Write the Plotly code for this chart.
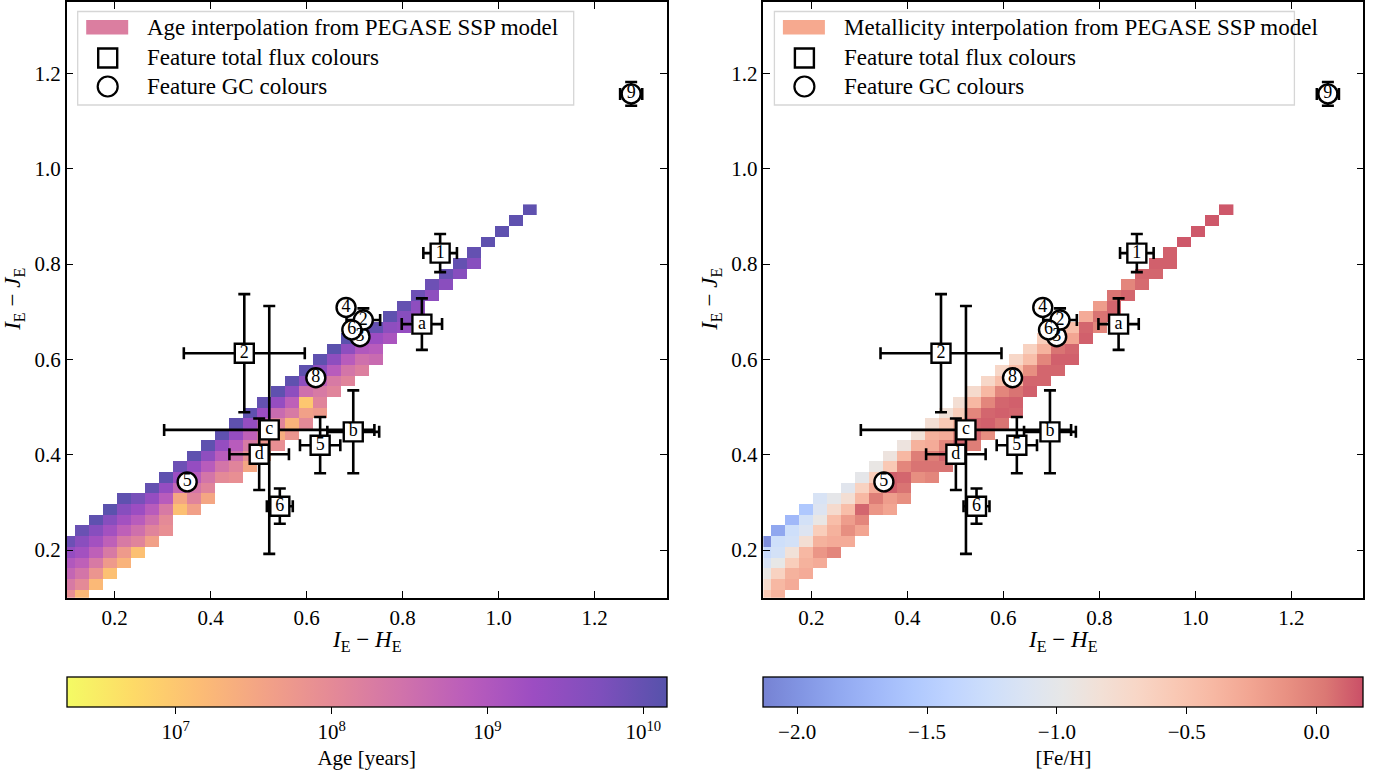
import plotly.graph_objects as go

SERIF = "Liberation Serif"
W, H = 1384, 778

# ---------------------------------------------------------------- model grid
# colour-colour bins of the interpolated SSP grid (lower edge of bin 0, bin width)
X_EDGE0, X_STEP = 0.11667, 0.029167
Y_EDGE0, Y_STEP = 0.1162, 0.02247
FIRST_COL = -1

# highest filled row of every column (column index starts at FIRST_COL)
COL_TOP_ROW = [4, 5, 6, 7, 8, 8, 9, 10, 11, 12, 13, 14, 15, 16, 17, 18, 19, 20,
               21, 22, 23, 24, 24, 25, 26, 27, 28, 29, 30, 31, 32, 33, 34, 35]

# log10(age / yr) of each filled cell, top row first
AGE_LOG = [
    [9.9, 9.4, 9.0, 8.7, 8.3, 7.9],
    [9.95, 9.55, 9.2, 8.8, 8.4, 8.0, 7.2],
    [10.05, 9.6, 9.2, 8.8, 8.3, 7.8, 7.2],
    [10.1, 9.6, 9.2, 8.8, 8.3, 7.7, 7.1],
    [10.05, 9.6, 9.2, 8.8, 8.3, 7.7, 7.3],
    [9.8, 9.3, 8.9, 8.5, 8.1, 7.1],
    [10.0, 9.4, 8.9, 8.5, 8.1, 7.6],
    [10.05, 9.4, 8.9, 8.3, 8.0, 7.9],
    [9.9, 9.3, 8.7, 7.5, 7.1],
    [10.05, 9.4, 8.9, 8.4, 8.1, 7.6],
    [10.05, 9.5, 8.9, 8.4, 8.1, 7.5],
    [10.05, 9.4, 8.9, 8.4, 8.0],
    [10.05, 9.4, 8.9, 8.5, 8.1, 7.9],
    [10.05, 9.4, 8.8, 8.3, 7.9, 7.5],
    [10.0, 9.3, 8.7, 8.2, 7.8, 7.5],
    [10.05, 9.4, 8.6, 8.1, 7.4, 7.9],
    [10.05, 9.5, 8.8, 8.3, 7.3, 7.8],
    [10.05, 9.5, 8.5, 7.0, 7.6, 8.0],
    [10.05, 9.5, 8.8, 8.3, 8.1, 7.7],
    [10.1, 9.5, 8.9, 8.3, 8.1],
    [10.1, 9.5, 8.9, 8.4, 8.1],
    [10.1, 9.5, 9.0, 8.5, 8.2],
    [10.0, 9.3, 8.9, 8.6],
    [10.05, 9.5, 9.1],
    [10.0, 9.6, 9.4],
    [9.9, 9.5, 9.4],
    [9.9, 9.5],
    [9.95, 9.55],
    [10.0, 9.6],
    [10.0, 9.6],
    [10.05],
    [10.05],
    [10.05],
    [10.05],
]

# [Fe/H] of each filled cell, top row first
FEH = [
    [-2.05, -1.3, -1.15, -0.95, -0.75, -0.55],
    [-1.85, -1.25, -1.2, -0.97, -0.65, -0.4, -0.35],
    [-1.7, -1.25, -1.2, -0.85, -0.6, -0.35, -0.3],
    [-1.55, -1.2, -1.1, -0.8, -0.4, -0.35, -0.3],
    [-1.15, -1.1, -0.95, -0.6, -0.35, -0.15, -0.3],
    [-1.0, -0.75, -0.45, -0.35, -0.3, -0.05],
    [-1.05, -0.8, -0.45, -0.2, -0.1, -0.3],
    [-1.0, -0.65, -0.4, 0.1, -0.05, -0.25],
    [-0.95, -0.6, -0.3, 0.0, -0.15],
    [-0.9, -0.55, 0.12, 0.12, -0.2, -0.25],
    [-0.9, -0.4, -0.05, 0.1, 0.05, -0.1],
    [-0.85, -0.35, 0.0, 0.05, -0.1],
    [-0.8, -0.35, -0.3, 0.0, 0.05, -0.05],
    [-0.85, -0.55, -0.3, -0.05, 0.1, 0.05],
    [-0.8, -0.6, -0.35, -0.05, 0.1, 0.05],
    [-0.75, -0.4, -0.05, 0.1, 0.1, 0.0],
    [-0.7, -0.4, -0.05, 0.1, 0.12, -0.1],
    [-0.7, -0.45, -0.05, 0.1, 0.12, 0.05],
    [-0.7, -0.45, -0.35, 0.05, 0.12, 0.1],
    [-0.65, -0.45, -0.1, 0.1, 0.12],
    [-0.6, -0.35, -0.05, 0.1, 0.1],
    [-0.5, -0.3, 0.05, 0.12, 0.1],
    [-0.45, -0.25, 0.1, 0.12],
    [-0.3, 0.1, 0.12],
    [-0.2, 0.05, -0.05],
    [0.05, 0.1, 0.1],
    [-0.05, 0.1],
    [0.1, 0.08],
    [0.12, 0.1],
    [0.12, 0.12],
    [0.15],
    [0.15],
    [0.15],
    [0.15],
]

AGE_RANGE = (6.3, 10.15)
FEH_RANGE = (-2.13, 0.18)

# ---------------------------------------------------------------- features
SQ_LABEL = ["1", "a", "2", "c", "b", "5", "d", "6"]
SQ_X = [0.878, 0.840, 0.470, 0.522, 0.697, 0.628, 0.501, 0.544]
SQ_Y = [0.823, 0.674, 0.613, 0.452, 0.448, 0.420, 0.401, 0.292]
SQ_XERR = [0.035, 0.042, 0.126, 0.219, 0.054, 0.042, 0.062, 0.027]
SQ_YERR = [0.040, 0.054, 0.124, 0.260, 0.087, 0.059, 0.075, 0.037]

GC_LABEL = ["9", "5", "8", "3", "2", "4", "6"]
GC_X = [1.276, 0.351, 0.619, 0.711, 0.718, 0.682, 0.694]
GC_Y = [1.157, 0.343, 0.5615, 0.6475, 0.6825, 0.709, 0.662]
GC_XERR = [0.023, 0.015, 0.015, 0.015, 0.035, 0.015, 0.015]
GC_YERR = [0.025, 0.015, 0.015, 0.015, 0.0245, 0.015, 0.015]

# ---------------------------------------------------------------- colours
PLASMA = ["#0d0887", "#46039f", "#7201a8", "#9c179e", "#bd3786",
          "#d8576b", "#ed7953", "#fb9f3a", "#fdca26", "#f0f921"]
COOLWARM = [(59, 76, 192), (77, 104, 215), (98, 130, 234), (119, 154, 247),
            (141, 176, 254), (163, 194, 255), (184, 208, 249), (204, 217, 238),
            (221, 221, 221), (236, 211, 197), (245, 196, 173), (247, 177, 148),
            (244, 154, 123), (236, 127, 99), (222, 96, 77), (203, 62, 56),
            (180, 4, 38)]
ALPHA = 0.7


def hex_rgb(h):
    h = h.lstrip("#")
    return tuple(int(h[i:i + 2], 16) for i in (0, 2, 4))


def on_white(rgb, a=ALPHA):
    return tuple(round(a * c + (1 - a) * 255) for c in rgb)


def scale_from(rgbs):
    n = len(rgbs) - 1
    return [[i / n, "rgb(%d,%d,%d)" % on_white(c)] for i, c in enumerate(rgbs)]


AGE_SCALE = scale_from([hex_rgb(h) for h in PLASMA[::-1]])
FEH_SCALE = scale_from(COOLWARM)


def grid(values):
    """Place the per-column cell values on the full colour-colour grid."""
    n_cols = len(COL_TOP_ROW)
    low = min(top - len(v) + 1 for top, v in zip(COL_TOP_ROW, values))
    high = max(COL_TOP_ROW)
    z = [[None] * n_cols for _ in range(high - low + 1)]
    for c, (top, col) in enumerate(zip(COL_TOP_ROW, values)):
        for k, val in enumerate(col):
            z[top - k - low][c] = val
    xs = [X_EDGE0 + X_STEP * (FIRST_COL + c + 0.5) for c in range(n_cols)]
    ys = [Y_EDGE0 + Y_STEP * (r + 0.5) for r in range(low, high + 1)]
    return xs, ys, z


# ---------------------------------------------------------------- layout geometry
AX_L = (66.7, 666.7)
AX_R = (763.4, 1363.4)
AX_TOP, AX_BOT = 1.9, 597.7
CB_TOP = 677


def px(x):
    return x / W


def py(y):
    return 1 - y / H


fig = go.Figure()

panels = [
    dict(xa="x", ya="y", vals=AGE_LOG, scale=AGE_SCALE, rng=AGE_RANGE, dom=AX_L,
         cb=dict(tickvals=[7, 8, 9, 10],
                 ticktext=["10<sup>7</sup>", "10<sup>8</sup>", "10<sup>9</sup>", "10<sup>10</sup>"],
                 title="Age [years]")),
    dict(xa="x2", ya="y2", vals=FEH, scale=FEH_SCALE, rng=FEH_RANGE, dom=AX_R,
         cb=dict(tickvals=[-2.0, -1.5, -1.0, -0.5, 0.0],
                 ticktext=["\u22122.0", "\u22121.5", "\u22121.0", "\u22120.5", "0.0"],
                 title="[Fe/H]")),
]

for p in panels:
    xs, ys, z = grid(p["vals"])
    d0, d1 = p["dom"]
    fig.add_trace(go.Heatmap(
        x=xs, y=ys, z=z, xaxis=p["xa"], yaxis=p["ya"],
        colorscale=p["scale"], zmin=p["rng"][0], zmax=p["rng"][1],
        hoverongaps=False, showscale=True,
        colorbar=dict(
            orientation="h", x=px((d0 + d1) / 2), xanchor="center",
            y=py(CB_TOP), yanchor="top", len=(d1 - d0) / W, lenmode="fraction",
            thickness=30, thicknessmode="pixels", xpad=0, ypad=0,
            outlinewidth=1.3, outlinecolor="black",
            ticks="outside", ticklen=7, tickwidth=1.3, tickcolor="black",
            tickvals=p["cb"]["tickvals"], ticktext=p["cb"]["ticktext"],
            tickfont=dict(family=SERIF, size=21, color="black"),
            title=dict(text=p["cb"]["title"], side="bottom",
                       font=dict(family=SERIF, size=21, color="black")),
        ),
    ))
    eb = dict(type="data", color="black", thickness=2.6, width=6)
    fig.add_trace(go.Scatter(
        x=SQ_X, y=SQ_Y, xaxis=p["xa"], yaxis=p["ya"], mode="markers+text",
        text=SQ_LABEL, textposition="middle center",
        textfont=dict(family=SERIF, size=18, color="black"),
        marker=dict(symbol="square", size=19, color="white",
                    line=dict(color="black", width=2.4)),
        error_x=dict(array=SQ_XERR, **eb), error_y=dict(array=SQ_YERR, **eb),
        showlegend=False, hoverinfo="skip",
    ))
    fig.add_trace(go.Scatter(
        x=GC_X, y=GC_Y, xaxis=p["xa"], yaxis=p["ya"], mode="markers+text",
        text=GC_LABEL, textposition="middle center",
        textfont=dict(family=SERIF, size=18, color="black"),
        marker=dict(symbol="circle", size=19, color="white",
                    line=dict(color="black", width=2.4)),
        error_x=dict(array=GC_XERR, **eb), error_y=dict(array=GC_YERR, **eb),
        showlegend=False, hoverinfo="skip",
    ))

axis_common = dict(
    range=[0.1, 1.35], tickvals=[0.2, 0.4, 0.6, 0.8, 1.0, 1.2], tickformat=".1f",
    ticks="inside", ticklen=7, tickwidth=1.4, tickcolor="black",
    showline=True, linecolor="black", linewidth=1.5, mirror="ticks",
    showgrid=False, zeroline=False,
    tickfont=dict(family=SERIF, size=21, color="black"),
)
ydom = [py(AX_BOT), py(AX_TOP)]
fig.update_layout(
    width=W, height=H, margin=dict(l=0, r=0, t=0, b=0),
    paper_bgcolor="white", plot_bgcolor="white", showlegend=False,
    xaxis=dict(domain=[px(AX_L[0]), px(AX_L[1])], anchor="y", **axis_common),
    yaxis=dict(domain=ydom, anchor="x", **axis_common),
    xaxis2=dict(domain=[px(AX_R[0]), px(AX_R[1])], anchor="y2", **axis_common),
    yaxis2=dict(domain=ydom, anchor="x2", **axis_common),
)

# axis titles
XLAB = "<i>I</i><sub>E</sub> \u2212 <i>H</i><sub>E</sub>"
YLAB = "<i>I</i><sub>E</sub> \u2212 <i>J</i><sub>E</sub>"
for d0, d1, yx in [(AX_L[0], AX_L[1], 14), (AX_R[0], AX_R[1], 711)]:
    fig.add_annotation(x=px((d0 + d1) / 2), y=py(641), xref="paper", yref="paper",
                       text=XLAB, showarrow=False, xanchor="center", yanchor="middle",
                       font=dict(family=SERIF, size=23, color="black"))
    fig.add_annotation(x=px(yx), y=py((AX_TOP + AX_BOT) / 2), xref="paper", yref="paper",
                       text=YLAB, showarrow=False, textangle=-90,
                       xanchor="center", yanchor="middle",
                       font=dict(family=SERIF, size=23, color="black"))

# legends
LEGENDS = [
    (AX_L[0], 496, "Age interpolation from PEGASE SSP model",
     "rgb(%d,%d,%d)" % on_white(hex_rgb("#cc4778"))),
    (AX_R[0], 520, "Metallicity interpolation from PEGASE SSP model",
     "rgb(%d,%d,%d)" % on_white((244, 154, 123), 0.85)),
]
for ax0, box_w, label, patch in LEGENDS:
    bx0, by0, by1 = ax0 + 11, 11.5, 105
    fig.add_shape(type="rect", xref="paper", yref="paper",
                  x0=px(bx0), x1=px(bx0 + box_w), y0=py(by1), y1=py(by0),
                  line=dict(color="#d6d6d6", width=1.3), fillcolor="rgba(255,255,255,0.8)")
    fig.add_shape(type="rect", xref="paper", yref="paper",
                  x0=px(ax0 + 19.5), x1=px(ax0 + 61.5), y0=py(34.5), y1=py(20),
                  line=dict(width=0), fillcolor=patch)
    fig.add_shape(type="rect", xref="paper", yref="paper",
                  x0=px(ax0 + 31.5), x1=px(ax0 + 50.5), y0=py(67.5), y1=py(48.5),
                  line=dict(color="black", width=2.4), fillcolor="rgba(0,0,0,0)")
    fig.add_shape(type="circle", xref="paper", yref="paper",
                  x0=px(ax0 + 31), x1=px(ax0 + 51), y0=py(96.5), y1=py(76.5),
                  line=dict(color="black", width=2.2), fillcolor="rgba(0,0,0,0)")
    for yy, txt in [(27.5, label), (57.5, "Feature total flux colours"),
                    (86.5, "Feature GC colours")]:
        fig.add_annotation(x=px(ax0 + 78.5), y=py(yy), xref="paper", yref="paper",
                           text=txt, showarrow=False, xanchor="left", yanchor="middle",
                           font=dict(family=SERIF, size=23, color="black"))

fig.write_html("out.html")
